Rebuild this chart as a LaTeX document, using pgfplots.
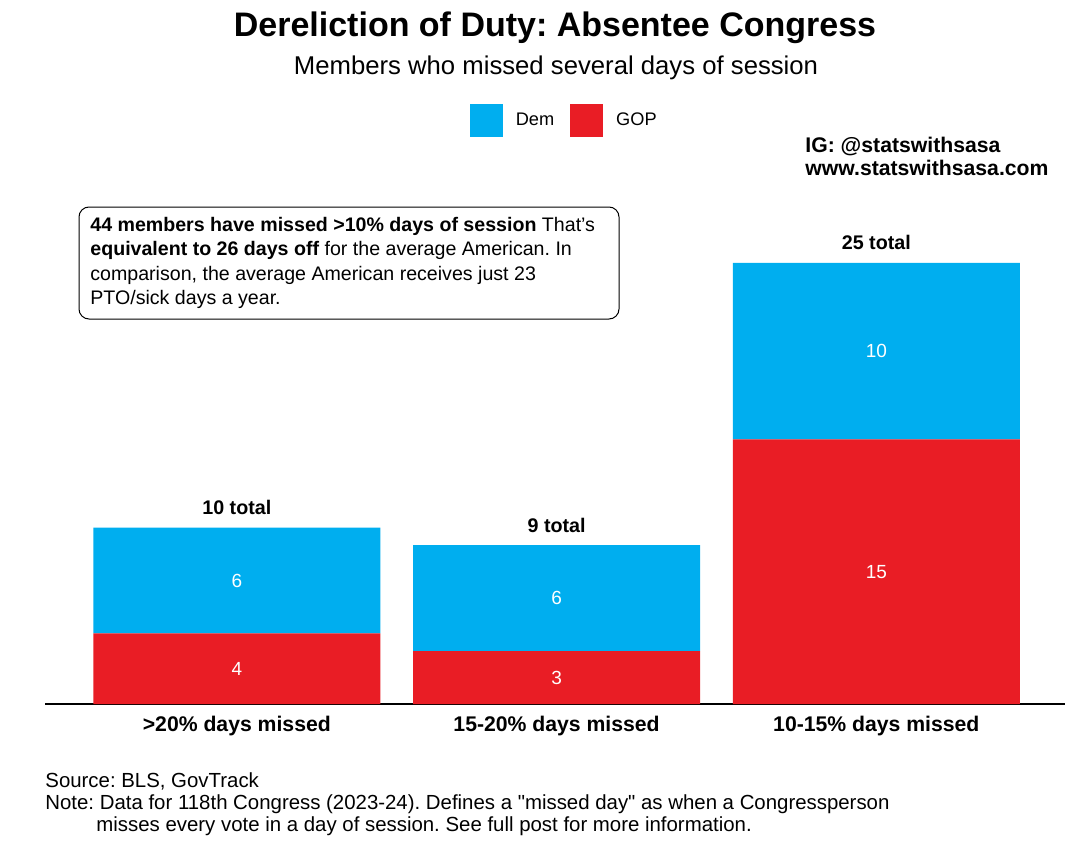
\documentclass[border=0pt]{standalone}
\usepackage{fontspec}
\setmainfont{Liberation Sans}[Ligatures=TeXOff]
\usepackage{pgfplots}
\pgfplotsset{compat=1.18}
\usepackage{pgfplotstable}
\definecolor{demblue}{HTML}{00AEEF}
\definecolor{gopred}{HTML}{E91D25}
\frenchspacing

\pgfplotstableread{
x gop dem
0 4 6
1 3 6
2 15 10
}\partydata

\pgfplotstableread{
x y label
0 2 4
1 1.5 3
2 7.5 15
0 7 6
1 6 6
2 20 10
}\seglabels

\pgfplotstableread{
x y label
0 10 {10 total}
1 9 {9 total}
2 25 {25 total}
}\totlabels

\newcommand{\fs}[2]{\fontsize{#1}{#2}\selectfont}

\begin{document}
\begin{tikzpicture}
\useasboundingbox (0,0) rectangle (540pt,424pt);
\pgfplotsset{base/.style={
  at={(22.5pt,72pt)}, anchor=south west,
  width=510pt, height=252pt, scale only axis,
  xmin=-0.6, xmax=2.59, ymin=0, ymax=28.57,
}}
\begin{axis}[base,
  ybar stacked, bar width=143.5pt,
  axis x line*=bottom, axis y line=none,
  x axis line style={-, line width=1pt},
  xtick={0,1,2},
  xticklabels={{>20\% days missed},{15-20\% days missed},{10-15\% days missed}},
  major tick length=0pt,
  xticklabel style={font=\bfseries\fs{10.6}{12}, yshift=-2.5pt},
  ytick=\empty,
  legend style={at={(0.51,1.157)}, anchor=center, draw=none, fill=none,
    legend columns=2, font=\fs{9.1}{11},
    /tikz/every odd column/.append style={column sep=4.5pt},
    /tikz/every even column/.append style={column sep=6pt}},
  legend image code/.code={\fill[#1] (0pt,-8.25pt) rectangle (16.5pt,8.25pt);},
  reverse legend,
]
\addplot[fill=gopred, draw=none] table[x=x,y=gop]{\partydata};
\addplot[fill=demblue, draw=none] table[x=x,y=dem]{\partydata};
\legend{GOP, Dem}
\end{axis}

\begin{axis}[base, hide axis, clip=false,
  nodes near coords, point meta=explicit symbolic]
\addplot[draw=none, mark=none,
  every node near coord/.append style={anchor=center, font=\fs{9.5}{11}, text=white}]
  table[x=x,y=y,meta=label]{\seglabels};
\addplot[draw=none, mark=none,
  every node near coord/.append style={anchor=base, yshift=6.5pt, font=\bfseries\fs{9.85}{12}}]
  table[x=x,y=y,meta=label]{\totlabels};
\end{axis}

\node[anchor=base, font=\bfseries\fs{17}{20}] at (277.5pt,405.5pt) {Dereliction of Duty: Absentee Congress};
\node[anchor=base, font=\fs{12.85}{15}] at (278pt,386.5pt) {Members who missed several days of session};

\node[anchor=base west, inner sep=0pt, font=\bfseries\fs{10.6}{12}] at (402.5pt,348pt) {IG: @statswithsasa};
\node[anchor=base west, inner sep=0pt, font=\bfseries\fs{10.6}{12}] at (402.5pt,336.5pt) {www.statswithsasa.com};

\draw[line width=0.5pt, rounded corners=5pt] (39.5pt,264.5pt) rectangle (309.5pt,320.5pt);
\begin{scope}[every node/.style={anchor=base west, inner sep=0pt, font=\fs{9.8}{12}}]
\node at (45pt,308.5pt) {\textbf{44 members have missed >10\% days of session} That’s};
\node at (45pt,296.25pt) {\textbf{equivalent to 26 days off} for the average American. In};
\node at (45pt,284pt) {comparison, the average American receives just 23};
\node at (45pt,271.75pt) {PTO/sick days a year.};
\end{scope}

\begin{scope}[every node/.style={anchor=base west, inner sep=0pt, font=\fs{10.2}{12}}]
\node at (22.5pt,30.5pt) {Source: BLS, GovTrack};
\node at (22.5pt,19.5pt) {Note: Data for 118th Congress (2023-24). Defines a "missed day" as when a Congressperson};
\node at (48pt,8.5pt) {misses every vote in a day of session. See full post for more information.};
\end{scope}
\end{tikzpicture}
\end{document}
